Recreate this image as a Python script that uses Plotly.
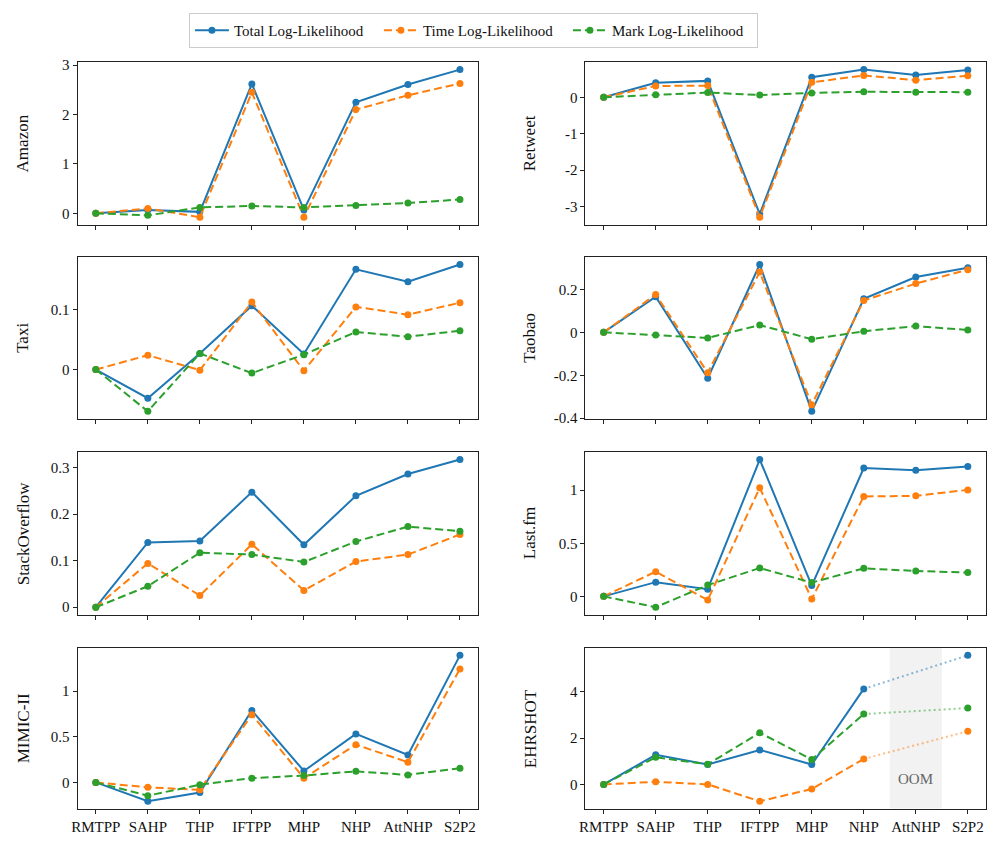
import plotly.graph_objects as go

models = ["RMTPP", "SAHP", "THP", "IFTPP", "MHP", "NHP", "AttNHP", "S2P2"]
datasets = ["Amazon", "Retweet", "Taxi", "Taobao", "StackOverflow", "Last.fm", "MIMIC-II", "EHRSHOT"]

# Total / Time / Mark log-likelihood improvement per dataset
amazon_total = [0.0, 0.07, 0.03, 2.62, 0.07, 2.25, 2.61, 2.91]
amazon_time = [0.0, 0.10, -0.08, 2.45, -0.08, 2.10, 2.39, 2.63]
amazon_mark = [0.0, -0.04, 0.12, 0.15, 0.12, 0.16, 0.21, 0.28]

retweet_total = [0.0, 0.40, 0.45, -3.21, 0.55, 0.76, 0.61, 0.75]
retweet_time = [0.0, 0.31, 0.32, -3.30, 0.41, 0.60, 0.47, 0.59]
retweet_mark = [0.0, 0.07, 0.13, 0.06, 0.12, 0.15, 0.14, 0.14]

taxi_total = [0.0, -0.048, 0.027, 0.107, 0.026, 0.168, 0.147, 0.176]
taxi_time = [0.0, 0.024, -0.001, 0.113, -0.002, 0.105, 0.092, 0.112]
taxi_mark = [0.0, -0.070, 0.027, -0.006, 0.025, 0.063, 0.055, 0.065]

taobao_total = [0.0, 0.166, -0.214, 0.316, -0.368, 0.156, 0.258, 0.301]
taobao_time = [0.0, 0.176, -0.188, 0.281, -0.337, 0.148, 0.227, 0.292]
taobao_mark = [0.0, -0.012, -0.026, 0.034, -0.032, 0.005, 0.029, 0.011]

so_total = [0.0, 0.139, 0.142, 0.247, 0.134, 0.239, 0.286, 0.317]
so_time = [0.0, 0.094, 0.025, 0.135, 0.036, 0.098, 0.113, 0.156]
so_mark = [0.0, 0.045, 0.117, 0.113, 0.097, 0.141, 0.173, 0.163]

lastfm_total = [0.0, 0.134, 0.068, 1.289, 0.102, 1.208, 1.189, 1.224]
lastfm_time = [0.0, 0.233, -0.034, 1.022, -0.025, 0.941, 0.947, 1.003]
lastfm_mark = [0.0, -0.102, 0.106, 0.267, 0.130, 0.264, 0.239, 0.224]

mimic_total = [0.0, -0.207, -0.111, 0.789, 0.125, 0.532, 0.300, 1.393]
mimic_time = [0.0, -0.054, -0.082, 0.743, 0.046, 0.414, 0.221, 1.243]
mimic_mark = [0.0, -0.146, -0.025, 0.046, 0.075, 0.121, 0.082, 0.154]

# EHRSHOT: AttNHP ran out of memory (OOM)
ehr_total = [0.0, 1.28, 0.86, 1.49, 0.86, 4.13, None, 5.58]
ehr_time = [0.0, 0.11, 0.0, -0.73, -0.20, 1.10, None, 2.30]
ehr_mark = [0.0, 1.17, 0.87, 2.23, 1.08, 3.04, None, 3.30]

series_names = ["Total Log-Likelihood", "Time Log-Likelihood", "Mark Log-Likelihood"]
colors = ["#1f77b4", "#ff7f0e", "#2ca02c"]
dashes = ["solid", "8px,4px", "8px,4px"]

all_data = {
    "Amazon": (amazon_total, amazon_time, amazon_mark),
    "Retweet": (retweet_total, retweet_time, retweet_mark),
    "Taxi": (taxi_total, taxi_time, taxi_mark),
    "Taobao": (taobao_total, taobao_time, taobao_mark),
    "StackOverflow": (so_total, so_time, so_mark),
    "Last.fm": (lastfm_total, lastfm_time, lastfm_mark),
    "MIMIC-II": (mimic_total, mimic_time, mimic_mark),
    "EHRSHOT": (ehr_total, ehr_time, ehr_mark),
}

# y tick labels per dataset
ytick_vals = {
    "Amazon": [0, 1, 2, 3],
    "Retweet": [-3, -2, -1, 0],
    "Taxi": [0, 0.1],
    "Taobao": [-0.4, -0.2, 0, 0.2],
    "StackOverflow": [0, 0.1, 0.2, 0.3],
    "Last.fm": [0, 0.5, 1],
    "MIMIC-II": [0, 0.5, 1],
    "EHRSHOT": [0, 2, 4],
}
ytick_text = {
    "Amazon": ["0", "1", "2", "3"],
    "Retweet": ["-3", "-2", "-1", "0"],
    "Taxi": ["0", "0.1"],
    "Taobao": ["-0.4", "-0.2", "0", "0.2"],
    "StackOverflow": ["0", "0.1", "0.2", "0.3"],
    "Last.fm": ["0", "0.5", "1"],
    "MIMIC-II": ["0", "0.5", "1"],
    "EHRSHOT": ["0", "2", "4"],
}

# page has an 8px body margin; size the figure so it fits the window exactly
OFF = 8
W, H = 996 - 2 * OFF, 860 - 2 * OFF
FONT = "Liberation Serif, Times New Roman, DejaVu Serif, serif"
col_px = [(72 - OFF, 475 - OFF), (583 - OFF, 986 - OFF)]
row_px = [(58 - OFF, 223 - OFF), (256 - OFF, 420 - OFF), (454 - OFF, 619 - OFF), (653 - OFF, 816 - OFF)]
label_x_px = [17 - OFF, 527 - OFF]

fig = go.Figure()
layout_axes = {}
annotations = []

for i, name in enumerate(datasets):
    r, c = divmod(i, 2)
    idx = i + 1
    xa = "x" if idx == 1 else f"x{idx}"
    ya = "y" if idx == 1 else f"y{idx}"
    vals = all_data[name]

    if name == "EHRSHOT":
        n_ok = 6
        for s in range(3):
            v = vals[s]
            fig.add_trace(go.Scatter(
                x=models[:n_ok], y=v[:n_ok], mode="lines+markers",
                line=dict(color=colors[s], width=2, dash=dashes[s]),
                marker=dict(size=7, color=colors[s]),
                xaxis=xa, yaxis=ya, showlegend=False, name=series_names[s]))
            fig.add_trace(go.Scatter(
                x=[models[5], models[7]], y=[v[5], v[7]], mode="lines",
                line=dict(color=colors[s], width=2, dash="2px,3px"),
                opacity=0.5, xaxis=xa, yaxis=ya, showlegend=False,
                hoverinfo="skip"))
            fig.add_trace(go.Scatter(
                x=[models[7]], y=[v[7]], mode="markers",
                marker=dict(size=7, color=colors[s]),
                xaxis=xa, yaxis=ya, showlegend=False, name=series_names[s]))
    else:
        for s in range(3):
            fig.add_trace(go.Scatter(
                x=models, y=vals[s], mode="lines+markers",
                line=dict(color=colors[s], width=2, dash=dashes[s]),
                marker=dict(size=7, color=colors[s]),
                xaxis=xa, yaxis=ya, name=series_names[s],
                showlegend=(i == 0)))

    flat = [v for arr in vals for v in arr if v is not None]
    lo, hi = min(flat), max(flat)
    pad = 0.05 * (hi - lo)

    x0, x1 = col_px[c]
    y0, y1 = row_px[r]
    xdom = [x0 / W, x1 / W]
    ydom = [1 - y1 / H, 1 - y0 / H]

    axis_common = dict(
        showline=True, mirror=True, linecolor="#222", linewidth=1,
        ticks="outside", ticklen=4, tickwidth=1, tickcolor="#222",
        showgrid=False, zeroline=False,
        tickfont=dict(family=FONT, size=15, color="#111"),
    )
    layout_axes["xaxis" if idx == 1 else f"xaxis{idx}"] = dict(
        axis_common, domain=xdom, anchor=ya, type="category",
        categoryorder="array", categoryarray=models,
        range=[-0.35, 7.35], showticklabels=(r == 3),
    )
    layout_axes["yaxis" if idx == 1 else f"yaxis{idx}"] = dict(
        axis_common, domain=ydom, anchor=xa,
        range=[lo - pad, hi + pad],
        tickmode="array", tickvals=ytick_vals[name], ticktext=ytick_text[name],
    )
    annotations.append(dict(
        text=name, xref="paper", yref="paper",
        x=label_x_px[c] / W, y=(ydom[0] + ydom[1]) / 2,
        xanchor="center", yanchor="middle", textangle=-90, showarrow=False,
        font=dict(family=FONT, size=17, color="#111")))

    if name == "EHRSHOT":
        fig.add_shape(type="rect", xref=xa, yref=f"{ya} domain",
                      x0=5.5, x1=6.5, y0=0, y1=1, fillcolor="#f2f2f2",
                      line=dict(width=0), layer="below")
        annotations.append(dict(
            text="OOM", xref=xa, yref=ya, x=6, y=0.25, showarrow=False,
            xanchor="center", yanchor="middle",
            font=dict(family=FONT, size=15, color="#666")))

fig.update_layout(
    width=W, height=H,
    margin=dict(l=0, r=0, t=0, b=0),
    paper_bgcolor="white", plot_bgcolor="rgba(0,0,0,0)",
    font=dict(family=FONT, size=15, color="#111"),
    showlegend=True,
    legend=dict(orientation="h", x=(184 - OFF) / W, xanchor="left",
                y=1, yanchor="top",
                bordercolor="#cccccc", borderwidth=1, bgcolor="white",
                font=dict(family=FONT, size=15), itemwidth=34,
                entrywidthmode="pixels", entrywidth=140),
    annotations=annotations,
    **layout_axes,
)

fig.write_html("out.html")
